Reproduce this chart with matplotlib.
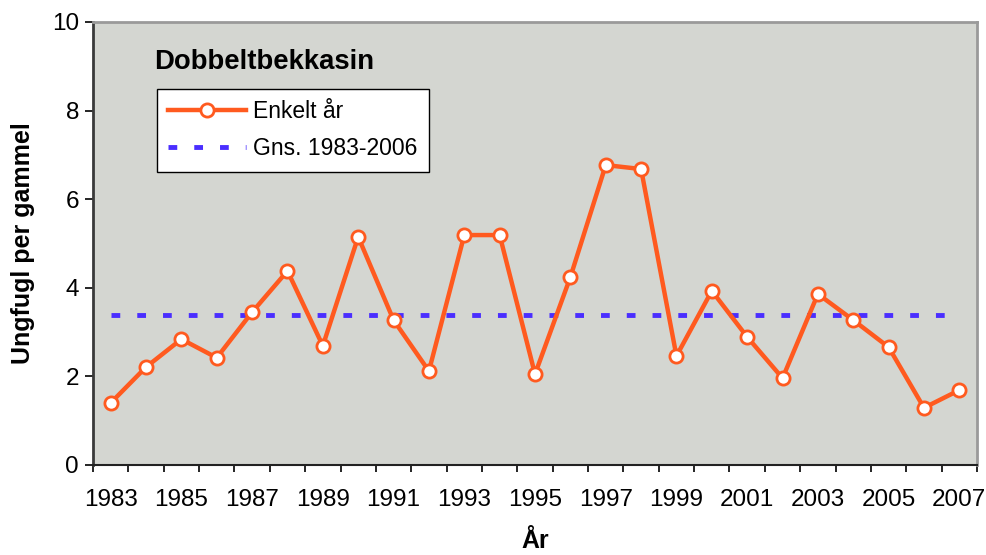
import numpy as np
import matplotlib
matplotlib.use('Agg')
from matplotlib import pyplot as plt

plt.rcParams['font.family'] = ['Liberation Sans', 'DejaVu Sans']

years = list(range(1983, 2008))
ungfugl = [1.40, 2.21, 2.84, 2.42, 3.45, 4.38, 2.69, 5.15, 3.27, 2.12,
           5.19, 5.19, 2.05, 4.24, 6.77, 6.68, 2.46, 3.93, 2.89, 1.96,
           3.86, 3.27, 2.66, 1.29, 1.69]
gjennomsnitt = 3.39
year_labels = [str(y) for y in years[::2]]

orange = '#FF5A1F'
blue = '#4A2EFF'

fig = plt.figure(figsize=(9.86, 5.55), dpi=100)
ax = fig.add_axes([0.0943, 0.1622, 0.8966, 0.7982])
ax.set_facecolor('#D4D6D1')

x = np.arange(len(years))
ax.plot(x, ungfugl, color=orange, lw=3.2, marker='o', markersize=9.5,
        markerfacecolor='white', markeredgecolor=orange, markeredgewidth=2,
        label='Enkelt år', zorder=3)
ax.plot([x[0], x[-1]], [gjennomsnitt, gjennomsnitt], color=blue, lw=3.5,
        dashes=(1.8, 3.5), label='Gns. 1983-2006', zorder=2)

ax.set_xlim(-0.5, len(years) - 0.5)
ax.set_ylim(0, 10)
ax.set_yticks(range(0, 11, 2))
ax.set_xticks(np.arange(-0.5, len(years)))
ax.set_xticklabels([])
ax.set_xticks(x[::2], minor=True)
ax.set_xticklabels(year_labels, minor=True)
ax.tick_params(axis='x', which='major', length=5, width=1.2, direction='out')
ax.tick_params(axis='x', which='minor', length=0, pad=17, labelsize=17.5)
ax.tick_params(axis='y', length=6, width=1.2, direction='out', labelsize=17.5, pad=4)

ax.spines['left'].set_color('#3a3a3a')
ax.spines['left'].set_linewidth(2)
ax.spines['bottom'].set_color('#222222')
ax.spines['bottom'].set_linewidth(1.5)
for s in ('top', 'right'):
    ax.spines[s].set_color('#9a9a9a')
    ax.spines[s].set_linewidth(2)

ax.set_ylabel('Ungfugl per gammel', fontsize=18, fontweight='bold', labelpad=12)
ax.set_xlabel('År', fontsize=18, fontweight='bold', labelpad=13)

ax.text(0.069, 0.910, 'Dobbeltbekkasin', transform=ax.transAxes,
        fontsize=19.8, fontweight='bold', va='center', ha='left')

leg = ax.legend(loc='upper left', bbox_to_anchor=(0.0724, 0.849), fontsize=16.5,
                frameon=True, fancybox=False, edgecolor='black', framealpha=1,
                borderpad=0.5, handlelength=3.4, handletextpad=0.3,
                labelspacing=0.6, borderaxespad=0)
leg.get_frame().set_linewidth(1)

fig.savefig('out.png', dpi=100)
